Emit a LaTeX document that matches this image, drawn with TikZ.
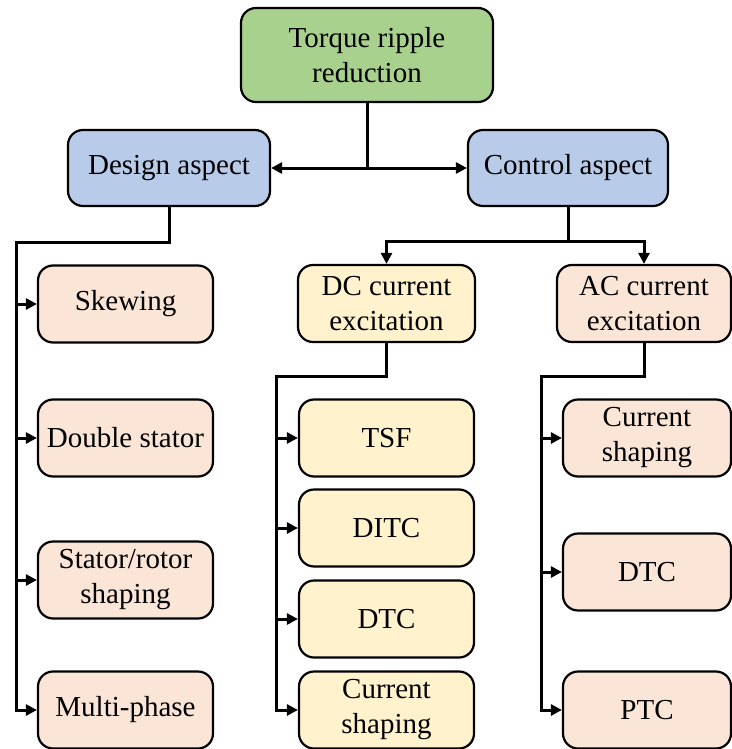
\documentclass[tikz,border=0pt]{standalone}
\usepackage{fontspec}
\setmainfont{LiberationSerif}[Extension=.ttf,UprightFont=*-Regular,BoldFont=*-Bold]
\usetikzlibrary{arrows.meta}

\definecolor{rootgreen}{HTML}{A9D18E}
\definecolor{aspblue}{HTML}{B8CCE9}
\definecolor{dcyellow}{HTML}{FFF2CC}
\definecolor{acpeach}{HTML}{FBE5D6}

\tikzset{
  box/.style={draw, line width=2.2pt, rounded corners=15pt, align=center,
    inner sep=2pt, font=\fontsize{29}{35}\selectfont},
  link/.style={line width=3pt},
  arr/.style={link, -{Triangle[length=11pt,width=11pt]}},
}

\begin{document}
\begin{tikzpicture}[x=1pt,y=-1pt]
    \useasboundingbox (0,0) rectangle (731,749);
    % top level
    \node[box,fill=rootgreen,minimum width=252pt,minimum height=94pt] (root) at (367,55) {Torque ripple\\reduction};
    \node[box,fill=aspblue,minimum width=202pt,minimum height=76pt] (design) at (169,168) {Design aspect};
    \node[box,fill=aspblue,minimum width=200pt,minimum height=76pt] (control) at (568,168) {Control aspect};
    \node[box,fill=dcyellow,minimum width=177pt,minimum height=77pt] (dc) at (386.5,303.5) {DC current\\excitation};
    \node[box,fill=acpeach,minimum width=174pt,minimum height=77pt] (ac) at (644,303.5) {AC current\\excitation};
    % leaves
    \foreach \name/\y/\txt in {skew/304/Skewing, dstat/438/Double stator, srs/580/{Stator/rotor\\shaping}, mph/710/Multi-phase}{
      \node[box,fill=acpeach,minimum width=175pt,minimum height=77pt] (\name) at (125.5,\y) {\txt};
    }
    \foreach \name/\y/\txt in {tsf/438/TSF, ditc/528/DITC, dtcd/619/DTC, csd/710/{Current\\shaping}}{
      \node[box,fill=dcyellow,minimum width=175pt,minimum height=77pt] (\name) at (386.5,\y) {\txt};
    }
    \foreach \name/\y/\txt in {csa/438/{Current\\shaping}, dtca/572/DTC, ptc/710/PTC}{
      \node[box,fill=acpeach,minimum width=168pt,minimum height=77pt] (\name) at (647,\y) {\txt};
    }
    % connectors
    \coordinate (rfork) at (root.south |- design.east);
    \draw[link] (root.south) -- (rfork);
    \draw[arr] (rfork) -- (design.east);
    \draw[arr] (rfork) -- (control.west);
    \coordinate (cfork) at (568,241);
    \draw[link] (control.south) -- (cfork);
    \draw[arr] (cfork) -| (dc.north);
    \draw[arr] (cfork) -| (ac.north);
    \coordinate (dbend) at (16,242);
    \draw[arr] (design.south) |- (dbend) |- (mph.west);
    \foreach \name in {skew,dstat,srs}
      \draw[arr] (dbend |- \name.west) -- (\name.west);
    \coordinate (dcbend) at (276,376);
    \draw[arr] (dc.south) |- (dcbend) |- (csd.west);
    \foreach \name in {tsf,ditc,dtcd}
      \draw[arr] (dcbend |- \name.west) -- (\name.west);
    \coordinate (acbend) at (541,376);
    \draw[arr] (ac.south) |- (acbend) |- (ptc.west);
    \foreach \name in {csa,dtca}
      \draw[arr] (acbend |- \name.west) -- (\name.west);
\end{tikzpicture}
\end{document}
